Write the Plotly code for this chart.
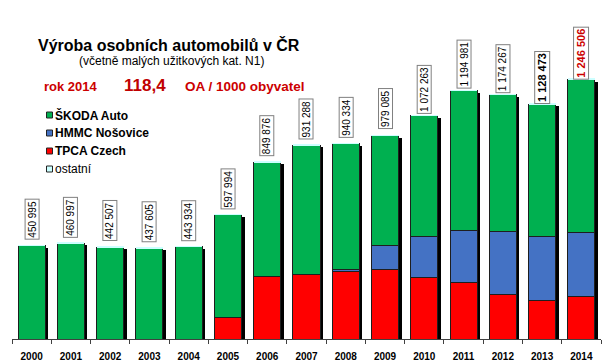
import plotly.graph_objects as go

years = list(range(2000, 2015))
tick_labels = [str(y) for y in years]
totals = [450995, 460997, 442507, 437605, 443934, 597994, 849876, 931288,
          940334, 979085, 1072263, 1194981, 1174267, 1128473, 1246506]
skoda = [449000, 459000, 441000, 436000, 442000, 493000, 551000, 620000,
         603000, 528000, 577000, 672000, 655000, 637000, 735000]
hmmc = [0, 0, 0, 0, 0, 0, 0, 0, 10000, 118000, 198000, 250000, 302000, 304000, 304000]
tpca = [0, 0, 0, 0, 0, 104000, 298000, 310000, 326000, 332000, 296000, 272000,
        216000, 186000, 206000]
ostatni = [1995, 1997, 1507, 1605, 1934, 994, 876, 1288, 1334, 1085, 1263, 981,
           1267, 1473, 5506]

FONT = "Liberation Sans, Arial, sans-serif"
W, H = 612, 363
ML, MR, MT, MB = 12, 11, 29, 24
PW, PH = W - ML - MR, H - MT - MB
BAR_W = 0.69
SHIFT = 0.076


def px2x(px):
    return (px - ML) / PW


def px2y(py):
    return (H - MB - py) / PH


def fmt(v):
    return f"{v:,}".replace(",", " ")


fig = go.Figure()

# shadow behind bars
fig.add_trace(go.Bar(
    x=[y + SHIFT for y in years], y=[t - 12000 for t in totals], width=BAR_W,
    marker=dict(color="black", line=dict(width=0)), showlegend=False, hoverinfo="skip"))

line = dict(color="#1e1e1e", width=1)
fig.add_trace(go.Bar(x=years, y=tpca, width=BAR_W, name="TPCA Czech",
                     marker=dict(color="#FF0000", line=line)))
fig.add_trace(go.Bar(x=years, y=hmmc, width=BAR_W, name="HMMC Nošovice",
                     marker=dict(color="#4472C4", line=line)))
fig.add_trace(go.Bar(x=years, y=skoda, width=BAR_W, name="ŠKODA Auto",
                     marker=dict(color="#00B050", line=line)))
fig.add_trace(go.Bar(x=years, y=ostatni, width=BAR_W, name="ostatní",
                     marker=dict(color="#CCFFFF", line=dict(width=0))))

annotations = []
for i, (yr, t) in enumerate(zip(years, totals)):
    color = "black"
    size = 10
    text = fmt(t)
    if yr == 2013:
        text = f"<b>{text}</b>"
        size = 11
    if yr == 2014:
        text = f"<b>{text}</b>"
        color = "#CC0000"
        size = 11
    annotations.append(dict(
        x=yr, y=t, xref="x", yref="y", text=text, textangle=-90,
        showarrow=False, xanchor="center", yanchor="middle", yshift=26,
        font=dict(family=FONT, size=size, color=color),
        bgcolor="white", bordercolor="#808080", borderwidth=1, borderpad=1))

annotations += [
    dict(x=px2x(36), y=px2y(45), xref="paper", yref="paper", showarrow=False,
         text="<b>Výroba osobních automobilů v ČR</b>", xanchor="left", yanchor="middle",
         font=dict(family=FONT, size=16, color="black")),
    dict(x=px2x(77), y=px2y(61), xref="paper", yref="paper", showarrow=False,
         text="(včetně malých užitkových kat. N1)", xanchor="left", yanchor="middle",
         font=dict(family=FONT, size=12, color="black")),
    dict(x=px2x(42), y=px2y(86), xref="paper", yref="paper", showarrow=False,
         text="<b>rok 2014</b>", xanchor="left", yanchor="middle",
         font=dict(family=FONT, size=13, color="#CC0000")),
    dict(x=px2x(122), y=px2y(85), xref="paper", yref="paper", showarrow=False,
         text="<b>118,4</b>", xanchor="left", yanchor="middle",
         font=dict(family=FONT, size=17, color="#C00000")),
    dict(x=px2x(183), y=px2y(86), xref="paper", yref="paper", showarrow=False,
         text="<b>OA / 1000 obyvatel</b>", xanchor="left", yanchor="middle",
         font=dict(family=FONT, size=13.5, color="#CC0000")),
]

legend_items = [("<b>ŠKODA Auto</b>", "#00B050", 115),
                ("<b>HMMC Nošovice</b>", "#4472C4", 133),
                ("<b>TPCA Czech</b>", "#FF0000", 151),
                ("ostatní", "#CCFFFF", 169)]
shapes = []
for txt, col, py in legend_items:
    shapes.append(dict(type="rect", xref="paper", yref="paper",
                       x0=px2x(46.5), x1=px2x(52.5), y0=px2y(py + 3), y1=px2y(py - 3),
                       fillcolor=col, line=dict(color="#222222", width=1)))
    annotations.append(dict(x=px2x(53), y=px2y(py), xref="paper", yref="paper",
                            showarrow=False, text=txt, xanchor="left", yanchor="middle",
                            font=dict(family=FONT, size=12, color="black")))

fig.update_layout(
    width=W, height=H, margin=dict(l=ML, r=MR, t=MT, b=MB, autoexpand=False),
    barmode="stack", showlegend=False,
    paper_bgcolor="white", plot_bgcolor="white",
    xaxis=dict(range=[1999.5, 2014.5], tickvals=years, ticktext=[f"<b>{t}</b>" for t in tick_labels],
               ticks="", showline=True, linecolor="#404040", linewidth=1,
               showgrid=False, zeroline=False, ticklabelstandoff=8, automargin=False,
               tickfont=dict(family=FONT, size=10, color="black"),
               minor=dict(tickvals=[y - 0.5 for y in years] + [years[-1] + 0.5],
                          ticks="outside", ticklen=4, tickcolor="#404040", tickwidth=1)),
    yaxis=dict(range=[0, 4800 * PH], visible=False, automargin=False),
    annotations=annotations, shapes=shapes,
)

fig.write_html("out.html")
